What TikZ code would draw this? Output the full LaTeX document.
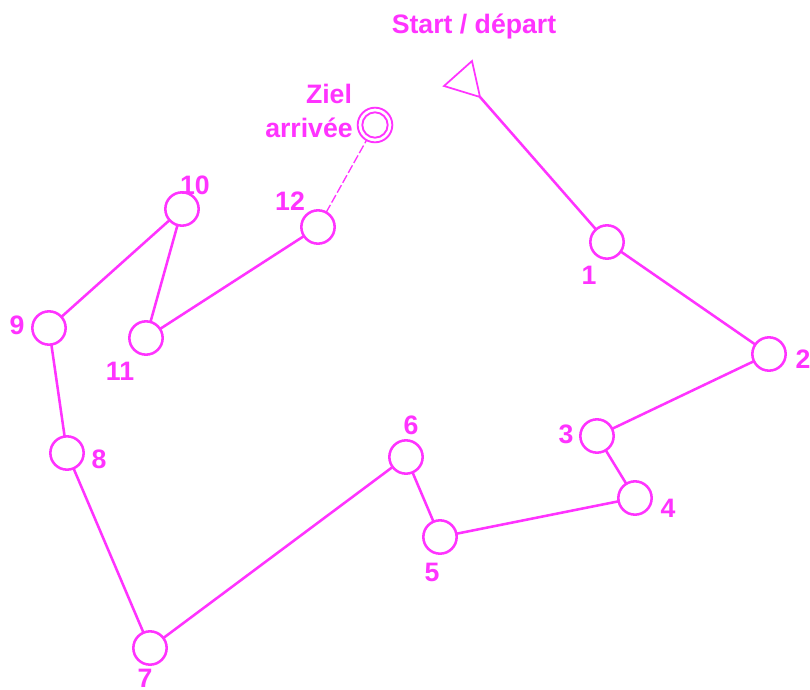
\documentclass[tikz,border=0pt]{standalone}
\usepackage{fontspec}
\setmainfont{Liberation Sans}
\definecolor{mag}{RGB}{255,51,255}
\tikzset{
 cp/.style={circle,draw=mag,line width=1.9pt,minimum size=25pt,inner sep=0pt,outer sep=0pt,fill=white},
 goal/.style={circle,draw=mag,line width=1.4pt,inner sep=0pt},
 lab/.style={text=mag,font=\bfseries\fontsize{20}{24}\selectfont,inner sep=0pt},
 leg/.style={draw=mag,line width=1.9pt},
}
\begin{document}
\begin{tikzpicture}[x=0.75pt,y=-0.75pt]
\useasboundingbox (0,0) rectangle (810,689);
\fill[white] (0,0) rectangle (810,689);
\coordinate (s) at (480,97);
\node[cp] (c1) at (607,242) {};
\node[cp] (c2) at (769,354) {};
\node[cp] (c3) at (597,436) {};
\node[cp] (c4) at (635,498) {};
\node[cp] (c5) at (440,537) {};
\node[cp] (c6) at (406,457) {};
\node[cp] (c7) at (150,648) {};
\node[cp] (c8) at (67,453) {};
\node[cp] (c9) at (49,328) {};
\node[cp] (c10) at (182,209) {};
\node[cp] (c11) at (146,338) {};
\node[cp] (c12) at (318,227) {};
\node[goal,minimum size=26pt,outer sep=0pt] (z) at (375,125) {};
\node[goal,minimum size=19pt] (zi) at (z) {};
\draw[leg] (s) -- (c1);
\foreach \a/\b in {c1/c2,c2/c3,c3/c4,c4/c5,c5/c6,c6/c7,c7/c8,c8/c9,c9/c10,c10/c11,c11/c12}{\draw[leg] (\a) -- (\b);}
\draw[mag,line width=1pt,dash pattern=on 6.5pt off 2pt] (c12) -- (z);
\coordinate (t1) at (472,61);
\coordinate (t2) at (444,86);
\draw[draw=mag,line width=1.3pt,line join=miter] (s) -- (t1) -- (t2) -- cycle;
\node[lab] (ls) at (474,26) {Start / départ};
\node[lab] (l1) at (589,275) {1};
\node[lab] (l2) at (803,359) {2};
\node[lab] (l3) at (566,434) {3};
\node[lab] (l4) at (668,508) {4};
\node[lab] (l5) at (432,572) {5};
\node[lab] (l6) at (411,425) {6};
\node[lab] (l7) at (145,678) {7};
\node[lab] (l8) at (99,459) {8};
\node[lab] (l9) at (17,325) {9};
\node[lab] (l10) at (195,185) {10};
\node[lab] (l11) at (120,371) {11};
\node[lab] (l12) at (290,201) {12};
\node[lab] (lz) at (329,94) {Ziel};
\node[lab] (la) at (309,128) {arrivée};
\end{tikzpicture}
\end{document}
